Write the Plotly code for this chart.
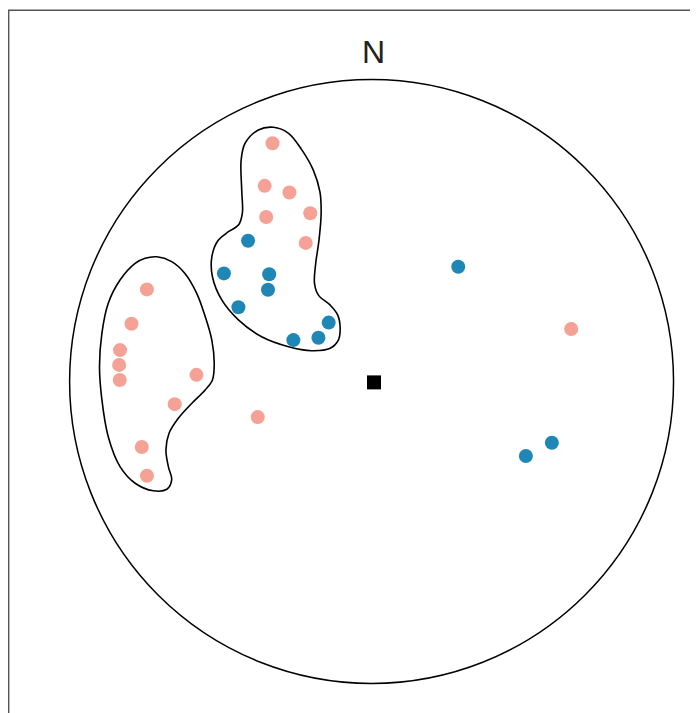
import plotly.graph_objects as go

# Net coordinates: equal-area net of radius 100 (x = east, y = north)
salmon_x = [-32.8, -35.4, -27.2, -34.9, -20.3, -21.8,
            -74.4, -79.5, -83.3, -83.6, -83.4, -58.0, -65.2, -76.1, -74.4,
            -37.7, 66.1]
salmon_y = [78.9, 64.8, 62.6, 54.5, 55.7, 45.9,
            30.5, 19.1, 10.4, 5.5, 0.5, 2.2, -7.5, -21.7, -31.2,
            -11.8, 17.4]

blue_x = [-40.9, -48.9, -33.9, -34.3, -44.1, -14.2, -17.6, -25.9, 28.7, 59.7, 51.1]
blue_y = [46.6, 35.8, 35.5, 30.4, 24.6, 19.5, 14.5, 13.7, 38.0, -20.3, -24.7]

mean_x = [0.8]
mean_y = [-0.3]

# Density contour outlines
upper_x = [-32.5, -27.5, -23.1, -19.3, -17.1, -16.7, -17.4, -18.5, -18.9, -17.6,
           -13.7, -11.2, -10.4, -11.0, -13.7, -19.8, -27.5, -36.4, -44.1, -49.6,
           -52.7, -52.9, -50.9, -47.4, -44.1, -42.8, -43.0, -43.2, -41.9, -37.5]
upper_y = [84.2, 82.2, 76.7, 70.0, 62.8, 55.7, 46.9, 39.1, 32.5, 28.6,
           25.3, 22.0, 17.6, 13.7, 11.0, 10.2, 11.5, 14.8, 20.4, 27.0,
           34.7, 41.3, 46.6, 49.6, 51.8, 55.7, 63.4, 73.3, 78.9, 83.3]

left_x = [-71.1, -66.2, -61.8, -57.9, -55.1, -52.9, -52.1, -52.7, -55.1, -59.5,
          -64.0, -67.1, -68.1, -67.3, -66.2, -67.8, -72.3, -78.3, -83.3, -87.2,
          -89.3, -90.1, -89.3, -87.2, -83.3, -78.3, -75.0]
left_y = [41.3, 39.7, 35.8, 29.2, 21.5, 13.7, 6.0, 0.5, -2.8, -7.2,
          -12.2, -17.2, -22.7, -28.2, -32.6, -35.7, -36.2, -33.7, -28.2, -18.3,
          -6.1, 4.9, 16.0, 25.9, 33.6, 39.1, 40.8]

NET_R = 100
W, H = 690, 705

fig = go.Figure()

for cx, cy in [(upper_x, upper_y), (left_x, left_y)]:
    fig.add_trace(go.Scatter(
        x=cx + cx[:1], y=cy + cy[:1], mode="lines",
        line=dict(color="black", width=1.6, shape="spline", smoothing=1.0),
        hoverinfo="skip", showlegend=False))

fig.add_trace(go.Scatter(
    x=salmon_x, y=salmon_y, mode="markers",
    marker=dict(color="#F5A195", size=14, line=dict(width=0)),
    showlegend=False))
fig.add_trace(go.Scatter(
    x=blue_x, y=blue_y, mode="markers",
    marker=dict(color="#1F87B5", size=14, line=dict(width=0)),
    showlegend=False))
fig.add_trace(go.Scatter(
    x=mean_x, y=mean_y, mode="markers",
    marker=dict(color="black", size=14, symbol="square", line=dict(width=0)),
    showlegend=False))

fig.add_shape(type="circle", xref="x", yref="y",
              x0=-NET_R, x1=NET_R, y0=-NET_R, y1=NET_R,
              line=dict(color="black", width=1.5), layer="below")

fig.add_shape(type="rect", xref="paper", yref="paper",
              x0=0.6 / W, x1=1.2, y0=-0.2, y1=1 - 2.2 / H,
              line=dict(color="#555555", width=1.6))

fig.add_annotation(x=0.8, y=109.1, xref="x", yref="y", text="N",
                   showarrow=False,
                   font=dict(size=32, color="#222222",
                             family="Liberation Sans, Arial, sans-serif"))

fig.update_layout(
    width=W, height=H,
    margin=dict(l=0, r=0, t=0, b=0),
    paper_bgcolor="white", plot_bgcolor="white",
    xaxis=dict(range=[-120.4, 108.1], visible=False, fixedrange=True),
    yaxis=dict(range=[-109.8, 123.7], visible=False, fixedrange=True),
    showlegend=False,
)

fig.write_html("out.html")
